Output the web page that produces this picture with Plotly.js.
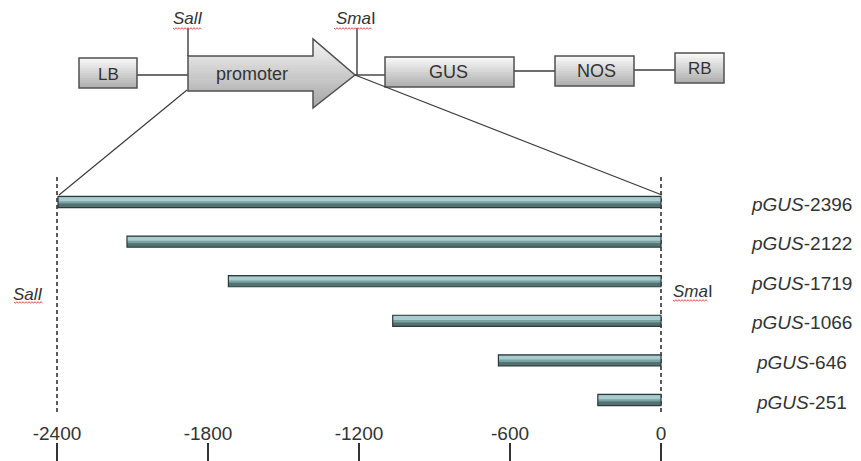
<!DOCTYPE html>
<html>
<head>
<meta charset="utf-8">
<script src="https://cdn.plot.ly/plotly-3.0.1.min.js"></script>
<style>html,body{margin:0;padding:0;background:#fff;}#chart{width:861px;height:461px;}</style>
</head>
<body>
<div id="chart"></div>
<script>
// ---- data ----
var constructs = ['pGUS-2396', 'pGUS-2122', 'pGUS-1719', 'pGUS-1066', 'pGUS-646', 'pGUS-251'];
var starts = [-2396, -2122, -1719, -1066, -646, -251];
var tickVals = [-2400, -1800, -1200, -600, 0];
var tickText = ['-2400', '-1800', '-1200', '-600', '0'];
var siteLeft = 'SalI';
var siteRight = 'SmaI';
var elements = ['LB', 'promoter', 'GUS', 'NOS', 'RB'];

var FONT = 'Liberation Sans, Arial, sans-serif';
var INK = '#333333';

// ---- helpers for decorative diagram ----
function hex(c){return [parseInt(c.substr(1,2),16),parseInt(c.substr(3,2),16),parseInt(c.substr(5,2),16)];}
function mix(a,b,t){var A=hex(a),B=hex(b);return 'rgb('+A.map(function(v,i){return Math.round(v+(B[i]-v)*t);}).join(',')+')';}
function clipSlab(poly, ya, yb){
  function clip(pts, keep, edgeY){
    var out=[];
    for(var i=0;i<pts.length;i++){
      var p=pts[i], q=pts[(i+1)%pts.length];
      var pin=keep(p), qin=keep(q);
      if(pin) out.push(p);
      if(pin!==qin){
        var t=(edgeY-p[1])/(q[1]-p[1]);
        out.push([p[0]+(q[0]-p[0])*t, edgeY]);
      }
    }
    return out;
  }
  var r=clip(poly,function(p){return p[1]>=ya;},ya);
  if(r.length) r=clip(r,function(p){return p[1]<=yb;},yb);
  return r;
}
function pathOf(pts){return 'M'+pts.map(function(p){return p[0].toFixed(2)+','+p[1].toFixed(2);}).join('L')+'Z';}
function gradPoly(poly, top, bot, c1, c2, n){
  var s=[];
  for(var i=0;i<n;i++){
    var ya=top+(bot-top)*i/n, yb=top+(bot-top)*(i+1)/n+0.6;
    var pts=clipSlab(poly,ya,yb);
    if(pts.length>2) s.push({type:'path',xref:'x2',yref:'y2',path:pathOf(pts),fillcolor:mix(c1,c2,i/(n-1)),line:{width:0},layer:'above'});
  }
  s.push({type:'path',xref:'x2',yref:'y2',path:pathOf(poly),fillcolor:'rgba(0,0,0,0)',line:{color:'#505050',width:1.5},layer:'above'});
  return s;
}
function boxPoly(x0,y0,x1,y1){return [[x0,y0],[x1,y0],[x1,y1],[x0,y1]];}
function seg(x0,y0,x1,y1,opts){
  opts=opts||{};
  return {type:'line',xref:opts.xref||'x2',yref:'y2',x0:x0,y0:y0,x1:x1,y1:y1,layer:'above',
          line:{color:opts.color||'#3c3c3c',width:opts.width||1.4,dash:opts.dash||'solid'}};
}
function wavy(x0,x1,y){
  var d='M'+x0+','+y, k=0;
  for(var x=x0+1.5;x<=x1;x+=1.5){k++;d+='L'+x+','+(y+(k%2?1.3:-0.3));}
  return {type:'path',xref:'x2',yref:'y2',path:d,line:{color:'#d9534f',width:1},layer:'above'};
}

var shapes=[];
// connectors
shapes.push(seg(137,75,188,75));
shapes.push(seg(355,75,385,75));
shapes.push(seg(514,71,555,71));
shapes.push(seg(634,70,675,70));
// boxes with gradient
var LIGHT='#f7f7f7', DARK='#b0b0b0';
shapes=shapes.concat(gradPoly(boxPoly(79,58,137,88),58,88,LIGHT,DARK,12));
shapes=shapes.concat(gradPoly([[188,56],[313,56],[313,39],[355,75],[313,108],[313,91],[188,91]],39,108,'#f4f4f4','#a6a6a6',24));
shapes=shapes.concat(gradPoly(boxPoly(385,57,514,87),57,87,LIGHT,DARK,12));
shapes=shapes.concat(gradPoly(boxPoly(555,56,634,86),56,86,LIGHT,DARK,12));
shapes=shapes.concat(gradPoly(boxPoly(675,53,724,83),53,83,LIGHT,DARK,12));
// restriction site pins
shapes.push(seg(188,28,188,56));
shapes.push(seg(357,28,357,75));
// zoom lines
shapes.push(seg(187,90,59,195,{width:1.2}));
shapes.push(seg(355,75,662,195,{width:1.2}));
// dashed guides at -2400 and 0 (data x)
shapes.push({type:'line',xref:'x',yref:'y2',x0:tickVals[0],x1:tickVals[0],y0:177,y1:413,layer:'below',line:{color:INK,width:1.6,dash:'4px,3px'}});
shapes.push({type:'line',xref:'x',yref:'y2',x0:tickVals[4],x1:tickVals[4],y0:177,y1:413,layer:'below',line:{color:INK,width:1.6,dash:'4px,3px'}});
// spell-check underlines
shapes.push(wavy(173,202,28));
shapes.push(wavy(334,372,28));
shapes.push(wavy(14,43,302));
shapes.push(wavy(673,708,300));

function italSite(s){return '<i>'+s.slice(0,3)+'</i>'+s.slice(3);}

var annotations=[];
function txt(x,y,t,size,extra){
  var a={xref:'x2',yref:'y2',x:x,y:y,text:t,showarrow:false,xanchor:'center',yanchor:'middle',
         font:{family:FONT,size:size,color:INK}};
  for(var k in extra) a[k]=extra[k];
  annotations.push(a);
}
txt(108,74,elements[0],17);
txt(252,74,elements[1],18);
txt(448,72,elements[2],18);
txt(596,71,elements[3],18);
txt(700,68,elements[4],17);
txt(188,18,'<i>'+siteLeft+'</i>',17);
txt(356,18,italSite(siteRight),17);
txt(28,294,'<i>'+siteLeft+'</i>',17);
txt(693,291,italSite(siteRight),17);

constructs.forEach(function(c){
  var parts=c.split('-');
  annotations.push({xref:'x2',yref:'y',x:801,y:c,yshift:-2,text:'<i>'+parts[0]+'</i>-'+parts[1],showarrow:false,
    xanchor:'center',yanchor:'middle',font:{family:FONT,size:19,color:INK}});
});

var barBase={type:'bar',orientation:'h',x:starts,y:constructs,hoverinfo:'skip',showlegend:false};
function bar(extra){var o={};for(var k in barBase)o[k]=barBase[k];for(var k2 in extra)o[k2]=extra[k2];return o;}
var traces=[
  bar({width:0.28,marker:{color:'#7aa1a3',line:{width:0}}}),
  bar({width:0.1,offset:-0.12,marker:{color:'#a9cdce',line:{width:0}}}),
  bar({width:0.09,offset:0.04,marker:{color:'#52716f',line:{width:0}}}),
  bar({width:0.28,marker:{color:'rgba(0,0,0,0)',line:{color:'#2f3a3b',width:1.2}}})
];

var layout={
  width:861,height:461,margin:{l:0,r:0,t:0,b:0},
  paper_bgcolor:'#ffffff',plot_bgcolor:'#ffffff',
  barmode:'overlay',showlegend:false,
  xaxis:{range:[-2626.5,794.7],tickvals:tickVals,ticktext:tickText,ticks:'inside',ticklen:18,tickwidth:1.5,
         tickcolor:INK,ticklabelposition:'inside',showline:false,showgrid:false,zeroline:false,
         tickfont:{family:FONT,size:19,color:INK},fixedrange:true},
  yaxis:{type:'category',categoryarray:constructs,categoryorder:'array',range:[6.540,-5.101],
         showticklabels:false,showgrid:false,zeroline:false,ticks:'',fixedrange:true},
  xaxis2:{overlaying:'x',range:[0,861],visible:false,anchor:'y2',fixedrange:true},
  yaxis2:{overlaying:'y',range:[461,0],visible:false,anchor:'x2',fixedrange:true},
  shapes:shapes,annotations:annotations
};
Plotly.newPlot('chart',traces,layout,{staticPlot:true,displayModeBar:false});
</script>
</body>
</html>
